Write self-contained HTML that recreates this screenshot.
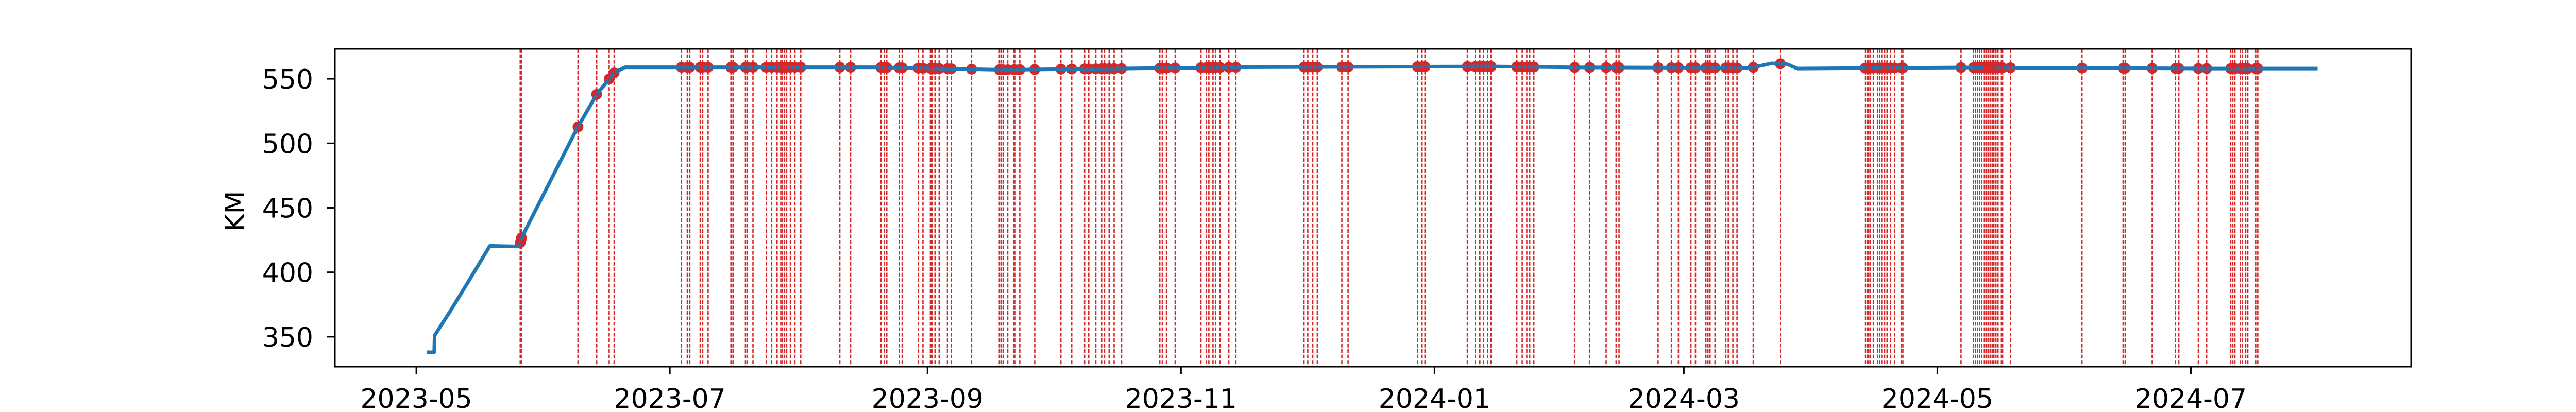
<!DOCTYPE html>
<html><head><meta charset="utf-8"><style>
html,body{margin:0;padding:0;background:#fff}
svg{display:block}
text{font-family:"DejaVu Sans","Liberation Sans",sans-serif;font-size:52px;fill:#000}
</style></head><body>
<svg id="chart" width="5200" height="800" viewBox="0 0 5200 800" xmlns="http://www.w3.org/2000/svg">
<rect x="0" y="0" width="5200" height="800" fill="#fff"/>
<g id="markers"></g>
<g id="series"></g>
<g id="events2"></g>
<g id="axes"></g>
</svg>
<script>
// data: days since 2023-05-01
const lineDays = [2.5,4.3,4.4,8,12,17.7,24.8,25.2,38.4,43.4,47.7,50.2,110.3,141.3,197.1,259.1,277.7,321.1,326.1,329.8,332.3,370.7,432.7,457.5];
const lineKm   = [338,338,351,369,390,420.5,420,426,510,538,555,559,559,557,559,559.6,558.9,558.5,562,561.5,558,558.8,558,558];
const eventDays = [25.0,25.3,38.9,43.4,46.4,47.6,63.8,65.2,65.8,68.3,68.9,70.2,75.7,76.2,79.2,79.6,81.0,84.2,85.5,86.8,87.7,88.1,88.6,89.1,90.0,91.1,92.5,101.9,104.5,111.8,112.6,113.2,116.2,116.9,120.8,121.9,123.7,124.1,124.8,125.8,127.8,128.7,133.6,140.3,140.7,141.2,142.3,143.8,144.1,145.2,148.8,155.1,157.7,160.8,161.8,163.5,164.9,165.6,166.7,167.9,169.7,178.9,179.5,180.5,182.6,188.8,190.1,190.7,191.7,192.3,193.4,195.5,197.2,213.6,214.5,215.7,216.8,222.7,224.2,240.9,242.0,242.7,252.9,254.8,255.9,256.8,257.8,258.6,264.8,266.1,267.2,267.9,268.9,278.7,282.3,286.3,288.7,289.4,298.8,302.0,303.7,306.7,307.8,310.3,310.8,311.3,312.5,315.1,315.7,316.8,317.8,321.7,328.2,348.6,349.1,349.5,349.9,350.6,351.6,352.1,352.6,353.3,353.9,354.7,355.7,357.3,357.7,371.7,374.7,375.2,375.7,376.2,376.7,377.2,377.7,378.2,378.7,379.2,379.6,380.1,380.6,381.3,381.7,383.6,400.8,410.7,411.2,417.7,423.3,424.1,428.8,430.8,436.6,437.1,437.6,438.9,439.4,440.2,440.7,442.6,443.1];
const xTickLabels = ["2023-05","2023-07","2023-09","2023-11","2024-01","2024-03","2024-05","2024-07"];
const yTicks = [350,400,450,500,550];
const yLabel = "KM";

const NS="http://www.w3.org/2000/svg";
const L=650,R=4680,T=95,B=712;
const xMin=-19.6, xMax=480.0;
const yMin=326.8, yMax=573.2;
function xs(d){return L+(d-xMin)/(xMax-xMin)*(R-L);}
function ys(v){return B-(v-yMin)/(yMax-yMin)*(B-T);}
function mk(tag,attrs,parent){const e=document.createElementNS(NS,tag);for(const k in attrs)e.setAttribute(k,attrs[k]);parent.appendChild(e);return e;}
function interp(d){
  if(d<=lineDays[0])return lineKm[0];
  for(let i=1;i<lineDays.length;i++){if(d<=lineDays[i]){const t=(d-lineDays[i-1])/(lineDays[i]-lineDays[i-1]);return lineKm[i-1]+t*(lineKm[i]-lineKm[i-1]);}}
  return lineKm[lineKm.length-1];
}
const base=Date.UTC(2023,4,1);
function labelDays(s){const p=s.split("-");return (Date.UTC(+p[0],+p[1]-1,1)-base)/86400000;}

const gM=document.getElementById("markers"),gS=document.getElementById("series"),gA=document.getElementById("axes");
eventDays.forEach(d=>{
  const ln=mk("line",{x1:xs(d),x2:xs(d),y1:T,y2:B,stroke:"#d62728","stroke-width":2.6,"stroke-dasharray":"7.4 3.2"},document.getElementById("events2"));
  
  
  const c=mk("circle",{cx:xs(d),cy:ys(interp(d)),r:10.5,fill:"#d62728"},gM);
  
  
});
const pts=lineDays.map((d,i)=>xs(d).toFixed(1)+","+ys(lineKm[i]).toFixed(1)).join(" ");
const pl=mk("polyline",{points:pts,fill:"none",stroke:"#1f77b4","stroke-width":7,"stroke-linejoin":"round"},gS);



const fr=mk("rect",{x:L,y:T,width:R-L,height:B-T,fill:"none",stroke:"#000","stroke-width":3},gA);


xTickLabels.forEach(s=>{
  const x=xs(labelDays(s));
  const t=mk("line",{x1:x,x2:x,y1:B,y2:B+15,stroke:"#000","stroke-width":3},gA);
  
  
  const tx=mk("text",{x:x,y:792,"text-anchor":"middle"},gA);tx.textContent=s;
  
  
});
yTicks.forEach(v=>{
  const y=ys(v);
  const t=mk("line",{x1:L-15,x2:L,y1:y,y2:y,stroke:"#000","stroke-width":3},gA);
  
  
  const tx=mk("text",{x:608,y:y+19,"text-anchor":"end"},gA);tx.textContent=v;
  
  
});
const yl=mk("text",{x:0,y:0,"text-anchor":"middle",transform:"translate(474,410) rotate(-90)"},gA);yl.textContent=yLabel;


</script>
</body></html>
